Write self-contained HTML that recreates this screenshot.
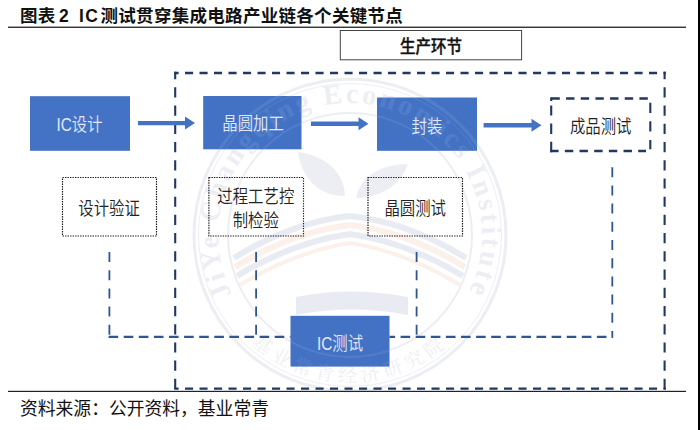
<!DOCTYPE html>
<html lang="zh-CN">
<head>
<meta charset="utf-8">
<title>图表 2 IC 测试贯穿集成电路产业链各个关键节点</title>
<style>
html,body{margin:0;padding:0;background:#fff;}
body{width:700px;height:430px;overflow:hidden;position:relative;font-family:"Liberation Sans","Noto Sans CJK SC",sans-serif;}
svg{position:absolute;left:0;top:0;display:block;}
text{font-family:"Liberation Sans","Noto Sans CJK SC",sans-serif;}
text.wm{font-family:"Liberation Serif",serif;}
text.wmc{font-family:"Liberation Serif","Noto Serif CJK SC",serif;}
.lt{font-weight:350;}
</style>
</head>
<body>
<svg width="700" height="430" viewBox="0 0 700 430">
  <rect x="0" y="0" width="700" height="430" fill="#ffffff"/>

  <!-- watermark seal -->
  <defs>
    <path id="wmarc" d="M 327.1 365.0 A 132 132 0 1 1 372.9 365.0"/>
    <path id="wmarc2" d="M 255.5 347.6 A 147 147 0 0 0 444.5 347.6"/>
    <g id="seal" fill="none" stroke="currentColor">
      <circle cx="350" cy="235" r="156" stroke-width="3"/>
      <circle cx="350" cy="235" r="151.5" stroke-width="1"/>
      <circle cx="350" cy="235" r="122" stroke-width="2"/>
      <text class="wm" font-size="28" font-weight="bold" fill="currentColor" stroke="none" text-anchor="middle" letter-spacing="3"><textPath href="#wmarc" startOffset="50%">JiYe Changqing Economics Institute</textPath></text>
      <text class="wmc" font-size="19" fill="currentColor" stroke="none" text-anchor="middle" letter-spacing="5"><textPath href="#wmarc2" startOffset="50%">基业常青经济研究院</textPath></text>
    </g>
    <clipPath id="boxclip">
      <rect x="203.5" y="96" width="98" height="53.5"/>
      <rect x="377" y="97.5" width="100" height="53.3"/>
      <rect x="290.5" y="315.5" width="99" height="51"/>
    </clipPath>
  </defs>
  <g opacity="0.10">
    <use href="#seal" color="#4f648f"/>
    <g fill="none" stroke-width="6" stroke-linecap="butt">
      <path d="M 350 216 Q 292 222 234 258" stroke="#2c4a8c"/>
      <path d="M 350 225 Q 292 232 235 267" stroke="#e2803a"/>
      <path d="M 350 234 Q 293 242 237 276" stroke="#2c4a8c"/>
      <path d="M 350 243 Q 294 252 240 285" stroke="#e2803a" stroke-width="4"/>
      <path d="M 350 216 Q 408 222 466 258" stroke="#2c4a8c"/>
      <path d="M 350 225 Q 408 232 465 267" stroke="#e2803a"/>
      <path d="M 350 234 Q 407 242 463 276" stroke="#2c4a8c"/>
      <path d="M 350 243 Q 406 252 460 285" stroke="#e2803a" stroke-width="4"/>
    </g>
    <path d="M 345 196 C 318 196 302 178 298 152 C 326 156 344 172 345 196 Z" fill="#4f648f"/>
    <path d="M 356 198 C 380 198 400 186 408 164 C 382 164 360 176 356 198 Z" fill="#4f648f"/>
    <path d="M 296 297 Q 350 286 408 297 L 408 315 Q 350 304 296 315 Z" fill="#2c4a8c"/>
  </g>

  <!-- title -->
  <text x="20" y="22" font-size="17.5" font-weight="bold" fill="#111" letter-spacing="0.3">图表<tspan x="59">2</tspan><tspan x="79" letter-spacing="1.5">IC</tspan><tspan x="100.5" letter-spacing="0.3">测试贯穿集成电路产业链各个关键节点</tspan></text>
  <rect x="8" y="26.6" width="678" height="1.3" fill="#222"/>

  <!-- 生产环节 -->
  <rect x="340.3" y="30.5" width="181.3" height="29.3" fill="#fff" stroke="#444" stroke-width="1"/>
  <text transform="translate(431 53.4) scale(1 1.14)" font-size="15.5" font-weight="500" fill="#111" stroke="#111" stroke-width="0.35" text-anchor="middle">生产环节</text>

  <!-- big dashed box -->
  <g fill="none" stroke="#203864">
    <path d="M174.2 73.1 H666" stroke-width="2.5" stroke-dasharray="8.1 6.4" stroke-dashoffset="3.7"/>
    <path d="M174.2 388.6 H666" stroke-width="2.4" stroke-dasharray="8.1 6.4" stroke-dashoffset="3.7"/>
    <path d="M175.2 71.8 V389.8" stroke-width="2.1" stroke-dasharray="10.2 8.02" stroke-dashoffset="2.7"/>
    <path d="M664.6 71.8 V389.8" stroke-width="2.1" stroke-dasharray="10.2 8.02" stroke-dashoffset="2.7"/>
  </g>

  <!-- blue boxes -->
  <rect x="30" y="96.2" width="100" height="54.6" fill="#4472c4"/>
  <rect x="203.2" y="96" width="98.3" height="53.3" fill="#4472c4"/>
  <rect x="377" y="97.5" width="100" height="53.3" fill="#4472c4"/>
  <rect x="290.5" y="315.8" width="99" height="50.8" fill="#4472c4"/>
  <g opacity="0.08" clip-path="url(#boxclip)"><use href="#seal" color="#ffffff"/></g>
  <g class="lt" font-size="15.4" fill="#e0e9f8" text-anchor="middle">
    <text transform="translate(79.5 131.3) scale(1 1.2)">IC设计</text>
    <text transform="translate(253.1 130.4) scale(1 1.2)">晶圆加工</text>
    <text transform="translate(427.0 132.6) scale(1 1.2)">封装</text>
    <text transform="translate(340.0 349.8) scale(1 1.2)">IC测试</text>
  </g>

  <!-- arrows -->
  <g fill="#4472c4">
    <path d="M138 120.90 H185 V116.60 L195 123.1 L185 129.60 V125.30 H138 Z"/>
    <path d="M311 121.50 H358.5 V117.20 L368.5 123.7 L358.5 130.20 V125.90 H311 Z"/>
    <path d="M483.6 123.00 H531.5 V118.70 L541.5 125.2 L531.5 131.70 V127.40 H483.6 Z"/>
  </g>

  <!-- 成品测试 dashed box -->
  <g fill="none" stroke="#203864">
    <path d="M551.4 98.5 H648" stroke-width="2.5" stroke-dasharray="8.4 6.27"/>
    <path d="M550.2 151 H646" stroke-width="2.5" stroke-dasharray="8.4 6.27"/>
    <path d="M650.3 102.7 V149.2" stroke-width="2.1" stroke-dasharray="10.2 8.4"/>
    <path d="M551.2 152.2 V105.4" stroke-width="2.1" stroke-dasharray="10.4 7.9"/>
    <path d="M551.2 101 V97.3" stroke-width="2.1"/>
  </g>
  <g class="lt" font-size="15.4" fill="#222" text-anchor="middle">
    <text transform="translate(600.7 132.5) scale(1 1.2)">成品测试</text>
  </g>

  <!-- dotted boxes -->
  <g fill="none" stroke="#1a1a1a" stroke-width="1.15" stroke-dasharray="1.4 1.1">
    <rect x="62.5" y="177.5" width="94" height="58.5"/>
    <rect x="208.9" y="177.5" width="94.6" height="58.5"/>
    <rect x="368" y="177.5" width="94.5" height="58.5"/>
  </g>
  <g class="lt" font-size="15.4" fill="#222" text-anchor="middle">
    <text transform="translate(109.1 214.7) scale(1 1.2)">设计验证</text>
    <text transform="translate(255.8 202.8) scale(1 1.2)">过程工艺控</text>
    <text transform="translate(255.8 226.5) scale(1 1.2)">制检验</text>
    <text transform="translate(415.2 214.7) scale(1 1.2)">晶圆测试</text>
  </g>

  <!-- inner dashed connectors -->
  <g fill="none" stroke="#2f5597">
    <path d="M109.4 252 V337.8" stroke-width="1.8" stroke-dasharray="10 8.2"/>
    <path d="M256.1 252 V337.8" stroke-width="1.8" stroke-dasharray="10 8.2"/>
    <path d="M416.6 252 V337.8" stroke-width="1.8" stroke-dasharray="10 8.2"/>
    <path d="M612.3 167.2 V337.8" stroke-width="1.8" stroke-dasharray="10 8.2"/>
    <path d="M108.6 336.9 H290.5" stroke-width="2.2" stroke-dasharray="9.6 5.5"/>
    <path d="M389.5 336.9 H613" stroke-width="2.2" stroke-dasharray="9.6 5.5" stroke-dashoffset="4"/>
  </g>

  <!-- bottom rule + source -->
  <rect x="8" y="390.8" width="678" height="1.2" fill="#222"/>
  <rect x="698" y="0" width="2" height="430" fill="#000"/>
  <text x="20" y="414.5" font-size="17.8" fill="#111">资料来源：公开资料，基业常青</text>
</svg>
</body>
</html>
